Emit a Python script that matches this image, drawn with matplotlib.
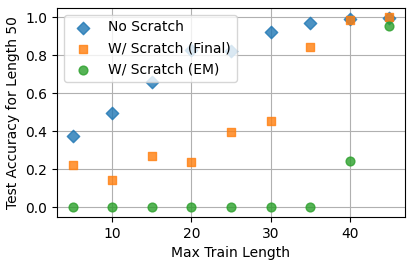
import matplotlib
matplotlib.use("Agg")
import matplotlib.pyplot as plt

lengths = [5, 10, 15, 20, 25, 30, 35, 40, 45]
no_scratch = [0.376, 0.496, 0.658, 0.83, 0.822, 0.924, 0.972, 0.99, 0.998]
scratch_final = [0.222, 0.146, 0.27, 0.236, 0.395, 0.455, 0.843, 0.986, 1.0]
scratch_em = [0.0, 0.0, 0.0, 0.0, 0.0, 0.0, 0.0, 0.242, 0.954]

fig, ax = plt.subplots(figsize=(4.15, 2.66), dpi=100)
ax.scatter(lengths, no_scratch, marker='D', s=40, color='tab:blue', alpha=0.8, label='No Scratch', zorder=3)
ax.scatter(lengths, scratch_final, marker='s', s=40, color='tab:orange', alpha=0.8, label='W/ Scratch (Final)', zorder=3)
ax.scatter(lengths, scratch_em, marker='o', s=40, color='tab:green', alpha=0.8, label='W/ Scratch (EM)', zorder=3)
ax.grid(True)
ax.set_xlabel('Max Train Length')
ax.set_ylabel('Test Accuracy for Length 50')
ax.legend(loc='upper left')
fig.subplots_adjust(left=0.137, right=0.976, top=0.97, bottom=0.185)
fig.savefig('out.png', dpi=100)
